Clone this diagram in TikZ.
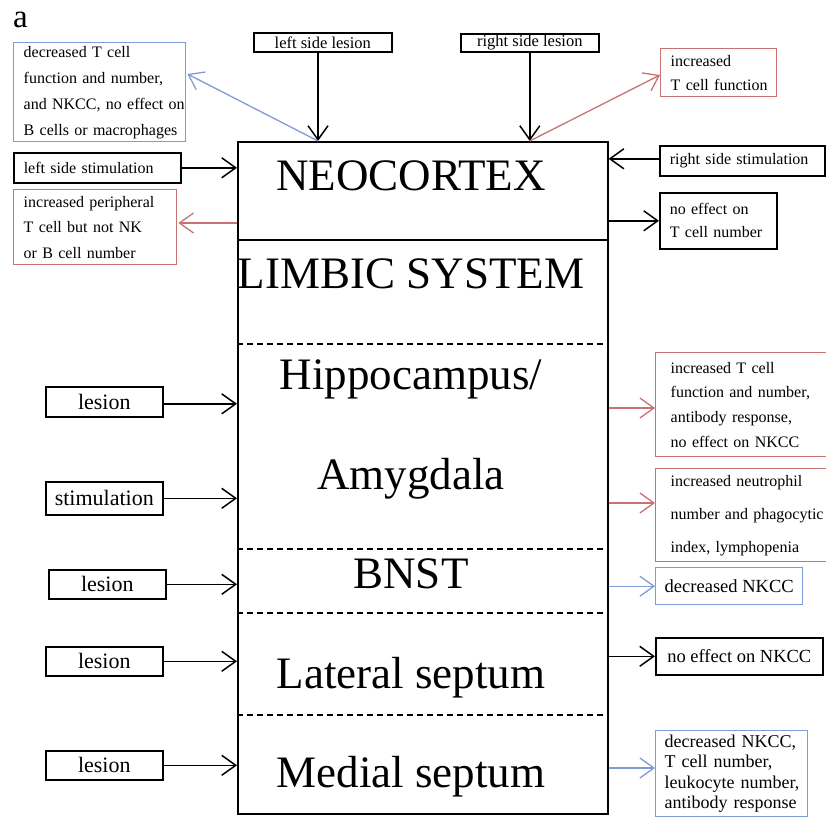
\documentclass[tikz,border=0pt]{standalone}
\usepackage{fontspec}
\setmainfont{Liberation Serif}
\usetikzlibrary{arrows.meta,calc}
\definecolor{cblue}{RGB}{128,155,215}
\definecolor{cred}{RGB}{200,115,115}
\newcommand\ml[1]{\mbox{#1}}
\begin{document}
\begin{tikzpicture}[x=1pt,y=-1pt,
  box/.style={draw=black,line width=1.6pt,anchor=north west,inner sep=0pt},
  bbox/.style={draw=cblue,line width=1.4pt,anchor=north west,inner sep=0pt},
  rbox/.style={draw=cred,line width=1.4pt,anchor=north west,inner sep=0pt},
  sm/.style={font=\fontsize{16}{26}\selectfont},
  md/.style={font=\fontsize{18.5}{20.5}\selectfont},
  lg/.style={font=\fontsize{22}{24}\selectfont},
  big/.style={font=\fontsize{45}{50}\selectfont,anchor=base,inner sep=0pt},
  arr/.style={line width=1.5pt,-{Straight Barb[length=14pt,width=20pt]}},
  barr/.style={draw=cblue,line width=1.3pt,-{Straight Barb[length=14pt,width=20pt]}},
  rarr/.style={draw=cred,line width=1.3pt,-{Straight Barb[length=14pt,width=20pt]}},
  div/.style={line width=1.4pt,dash pattern=on 6pt off 4pt}
]
\useasboundingbox (0,0) rectangle (826,816);

\node[font=\fontsize{33}{36}\selectfont,anchor=base west,inner sep=0pt] (lbl) at (13,28) {a};

% main column
\node[draw=black,line width=1.6pt,minimum width=370,minimum height=672,anchor=north west,inner sep=0pt] (brain) at (237,141) {};
\draw[line width=1.6pt] (237,240) -- (607,240);
\draw[div] (237,344) -- (607,344);
\draw[div] (237,549) -- (607,549);
\draw[div] (237,613) -- (607,613);
\draw[div] (237,715) -- (607,715);

\node[big] (neo) at (411,190) {NEOCORTEX};
\node[big] (lim) at (411,288) {LIMBIC SYSTEM};
\node[big] (hip) at (411,389) {Hippocampus/};
\node[big] (amy) at (411,489) {Amygdala};
\node[big] (bnst) at (411,588) {BNST};
\node[big] (lat) at (411,688) {Lateral septum};
\node[big] (med) at (411,787) {Medial septum};

% top boxes
\node[box,minimum width=138,minimum height=19,font=\fontsize{16.5}{19}\selectfont] (lsl) at (253,32) {left side lesion};
\node[box,minimum width=138,minimum height=18,font=\fontsize{16.5}{19}\selectfont] (rsl) at (460,33) {right side lesion};
\coordinate (lslp) at (318,141);
\draw[arr] (lsl.south -| lslp) -- (lslp);
\draw[arr] (rsl.south) -- (rsl.south |- brain.north);

\node[rbox,font=\fontsize{16}{24}\selectfont,align=left,text width=96,inner xsep=10pt,minimum height=48] (incT) at (660,48) {\ml{increased}\\\ml{T cell function}};
\draw[rarr] (rsl.south |- brain.north) -- ($(incT.north west)+(0,27)$);

\node[bbox,sm,align=left,text width=152,inner xsep=10pt,minimum height=99] (decT) at (13,42) {\ml{decreased T cell}\\\ml{function and number,}\\\ml{and NKCC, no effect on}\\\ml{B cells or macrophages}};
\draw[barr] (lslp) -- ($(decT.north east)+(1,32)$);

\node[box,font=\fontsize{16}{20}\selectfont,align=left,text width=147,inner xsep=10pt,minimum height=30] (lss) at (13,152) {\ml{left side stimulation}};
\draw[arr] (lss.east) -- (lss.east -| brain.west);

\node[rbox,font=\fontsize{16}{25.5}\selectfont,align=left,text width=143,inner xsep=10pt,minimum height=75] (incP) at (13,189) {\ml{increased peripheral}\\\ml{T cell but not NK}\\\ml{or B cell number}};
\draw[rarr] ($(incP.north east -| brain.west)+(0,34)$) -- ($(incP.north east)+(1,34)$);

\node[box,font=\fontsize{16}{20}\selectfont,align=left,text width=145,inner xsep=10pt,minimum height=30] (rss) at (659,145) {\ml{right side stimulation}};
\draw[arr] ($(rss.west)+(0,-2)$) -- ($(rss.west -| brain.east)+(0,-2)$);

\node[box,font=\fontsize{16}{23}\selectfont,align=left,text width=97,inner xsep=10pt,minimum height=56] (noT) at (659,192) {\ml{no effect on}\\\ml{T cell number}};
\draw[arr] (noT.west -| brain.east) -- (noT.west);

% left lesion / stimulation boxes
\node[box,lg,minimum width=117,minimum height=30] (les1) at (45,386) {lesion};
\node[box,lg,minimum width=117,minimum height=33] (stim) at (45,481) {stimulation};
\node[box,lg,minimum width=117,minimum height=29] (les2) at (48,569) {lesion};
\node[box,lg,minimum width=117,minimum height=29] (les3) at (45,646) {lesion};
\node[box,lg,minimum width=117,minimum height=29] (les4) at (45,750) {lesion};
\draw[arr] ($(les1.east)+(0,2)$) -- ($(les1.east -| brain.west)+(0,2)$);
\draw[arr] (stim.east) -- (stim.east -| brain.west);
\draw[arr] (les2.east) -- (les2.east -| brain.west);
\draw[arr] (les3.east) -- (les3.east -| brain.west);
\draw[arr] (les4.east) -- (les4.east -| brain.west);

% right result boxes
\node[rbox,font=\fontsize{16}{24.7}\selectfont,align=left,text width=165,inner xsep=15pt,minimum height=104] (res1) at (655,352) {\ml{increased T cell}\\\ml{function and number,}\\\ml{antibody response,}\\\ml{no effect on NKCC}};
\node[rbox,font=\fontsize{16}{33}\selectfont,align=left,text width=165,inner xsep=15pt,minimum height=93] (res2) at (655,468) {\ml{increased neutrophil}\\\ml{number and phagocytic}\\\ml{index, lymphopenia}};
\node[bbox,md,minimum width=147,minimum height=37] (res3) at (655,567) {decreased NKCC};
\node[box,md,minimum width=167,minimum height=37] (res4) at (655,637) {no effect on NKCC};
\node[bbox,font=\fontsize{18}{20.5}\selectfont,align=left,text width=134,inner xsep=9pt,inner ysep=4pt] (res5) at (655,730) {\ml{decreased NKCC,}\\\ml{T cell number,}\\\ml{leukocyte number,}\\\ml{antibody response}};

\draw[rarr] ($(res1.north west -| brain.east)+(0,56)$) -- ($(res1.north west)+(0,56)$);
\draw[rarr] ($(res2.north west -| brain.east)+(0,35)$) -- ($(res2.north west)+(0,35)$);
\draw[barr] (res3.west -| brain.east) -- (res3.west);
\draw[arr] (res4.west -| brain.east) -- (res4.west);
\draw[barr] ($(res5.north west -| brain.east)+(0,38)$) -- ($(res5.north west)+(0,38)$);
\end{tikzpicture}
\end{document}
